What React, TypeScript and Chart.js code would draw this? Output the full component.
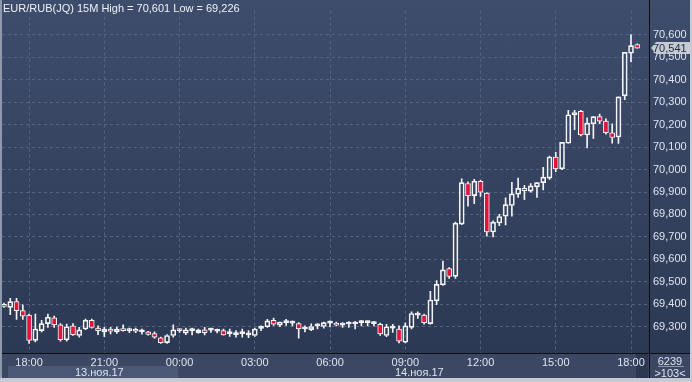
import React, { useEffect, useRef } from 'react';
import { Chart, registerables } from 'chart.js';

Chart.register(...registerables);

// ---- data (15M candles, 13.11.17 17:00 -> 14.11.17 18:15) ----
const opens = [
  69.400, 69.386, 69.412, 69.372, 69.352, 69.239, 69.283, 69.314, 69.340, 69.308,
  69.242, 69.304, 69.261, 69.290, 69.329, 69.294, 69.277, 69.290, 69.277, 69.292,
  69.283, 69.280, 69.277, 69.277, 69.269, 69.251, 69.229, 69.261, 69.284, 69.271,
  69.283, 69.274, 69.286, 69.285, 69.280, 69.283, 69.269, 69.265, 69.269, 69.264,
  69.261, 69.293, 69.300, 69.329, 69.307, 69.318, 69.316, 69.314, 69.290, 69.287,
  69.304, 69.301, 69.316, 69.316, 69.307, 69.312, 69.312, 69.318, 69.318, 69.314,
  69.311, 69.261, 69.294, 69.290, 69.231, 69.297, 69.352, 69.352, 69.314, 69.415,
  69.487, 69.559, 69.524, 69.757, 69.938, 69.884, 69.948, 69.895, 69.722, 69.762,
  69.792, 69.840, 69.890, 69.916, 69.904, 69.923, 69.942, 69.962, 70.056, 70.003,
  70.117, 70.244, 70.259, 70.154, 70.204, 70.236, 70.216, 70.164, 70.145, 70.328,
  70.518, 70.557,
];
const highs = [
  69.405, 69.426, 69.426, 69.397, 69.356, 69.356, 69.329, 69.356, 69.347, 69.314,
  69.312, 69.314, 69.297, 69.334, 69.334, 69.304, 69.297, 69.297, 69.299, 69.308,
  69.294, 69.294, 69.290, 69.280, 69.277, 69.254, 69.265, 69.308, 69.290, 69.294,
  69.294, 69.290, 69.297, 69.294, 69.290, 69.290, 69.290, 69.283, 69.290, 69.283,
  69.294, 69.304, 69.333, 69.338, 69.321, 69.333, 69.326, 69.319, 69.304, 69.313,
  69.314, 69.321, 69.326, 69.321, 69.318, 69.323, 69.324, 69.328, 69.326, 69.323,
  69.316, 69.311, 69.311, 69.304, 69.317, 69.366, 69.366, 69.356, 69.458, 69.506,
  69.592, 69.563, 69.766, 69.959, 69.945, 69.957, 69.952, 69.897, 69.772, 69.801,
  69.874, 69.943, 69.962, 69.930, 69.938, 69.942, 70.010, 70.060, 70.077, 70.121,
  70.264, 70.264, 70.264, 70.230, 70.236, 70.247, 70.226, 70.204, 70.324, 70.522,
  70.601, 70.560,
];
const lows = [
  69.386, 69.354, 69.333, 69.333, 69.226, 69.232, 69.277, 69.297, 69.297, 69.236,
  69.236, 69.261, 69.254, 69.287, 69.294, 69.265, 69.256, 69.268, 69.270, 69.280,
  69.273, 69.273, 69.267, 69.262, 69.248, 69.226, 69.226, 69.254, 69.275, 69.265,
  69.263, 69.270, 69.263, 69.275, 69.272, 69.262, 69.257, 69.254, 69.254, 69.251,
  69.257, 69.283, 69.297, 69.306, 69.300, 69.306, 69.304, 69.249, 69.277, 69.283,
  69.290, 69.294, 69.299, 69.304, 69.297, 69.297, 69.290, 69.304, 69.304, 69.304,
  69.261, 69.256, 69.275, 69.228, 69.228, 69.290, 69.337, 69.311, 69.311, 69.398,
  69.484, 69.515, 69.515, 69.755, 69.837, 69.848, 69.880, 69.703, 69.700, 69.750,
  69.753, 69.792, 69.876, 69.866, 69.899, 69.876, 69.909, 69.956, 69.991, 69.999,
  70.117, 70.178, 70.150, 70.096, 70.139, 70.204, 70.158, 70.117, 70.116, 70.311,
  70.479, 70.541,
];
const closes = [
  69.390, 69.412, 69.372, 69.347, 69.239, 69.290, 69.314, 69.343, 69.308, 69.242,
  69.300, 69.265, 69.286, 69.329, 69.297, 69.283, 69.290, 69.280, 69.290, 69.283,
  69.284, 69.287, 69.277, 69.266, 69.254, 69.229, 69.261, 69.286, 69.283, 69.286,
  69.283, 69.286, 69.274, 69.285, 69.280, 69.264, 69.269, 69.265, 69.269, 69.264,
  69.290, 69.293, 69.326, 69.311, 69.321, 69.318, 69.316, 69.290, 69.290, 69.301,
  69.304, 69.318, 69.316, 69.307, 69.307, 69.312, 69.312, 69.318, 69.318, 69.314,
  69.268, 69.300, 69.294, 69.236, 69.304, 69.359, 69.353, 69.318, 69.419, 69.489,
  69.553, 69.524, 69.761, 69.942, 69.884, 69.948, 69.899, 69.722, 69.766, 69.791,
  69.844, 69.892, 69.916, 69.906, 69.927, 69.942, 69.966, 70.056, 70.003, 70.121,
  70.244, 70.254, 70.154, 70.207, 70.236, 70.216, 70.164, 70.143, 70.324, 70.522,
  70.552, 70.541,
];

// candle numbers carrying a time label, and the labels
const timeTickIndex = [5, 17, 29, 41, 53, 65, 77, 89, 101];
const timeTickLabels = ['18:00', '21:00', '00:00', '03:00', '06:00', '09:00', '12:00', '15:00', '18:00'];
const priceTicks = [69.3, 69.4, 69.5, 69.6, 69.7, 69.8, 69.9, 70.0, 70.1, 70.2, 70.3, 70.4, 70.5, 70.6];
const lastPrice = 70.541;
const titleText = 'EUR/RUB(JQ) 15M High = 70,601 Low = 69,226';
const dateLabels = ['13.ноя.17', '14.ноя.17'];
const barCount = '6239';
const visibleCount = '>103<';

const FONT = "'Liberation Sans Narrow', 'Arial Narrow', 'Liberation Sans', Arial, sans-serif";
const TEXT = '#dfe4ee';
const GRID = '#56637f';
const RED = '#e3143c';
const WHITE = '#f4f4f6';

const fmt = (v: number) => v.toFixed(3).replace('.', ',');

const lastPricePlugin = {
  id: 'lastPrice',
  afterDraw(chart: any) {
    const { ctx, chartArea, scales } = chart;
    const y = scales.y.getPixelForValue(lastPrice);
    const x0 = chartArea.right + 2;
    const x1 = chart.width;
    ctx.save();
    ctx.fillStyle = '#c6cad3';
    ctx.beginPath();
    ctx.moveTo(x0, y);
    ctx.lineTo(x0 + 5, y - 6);
    ctx.lineTo(x1, y - 6);
    ctx.lineTo(x1, y + 6);
    ctx.lineTo(x0 + 5, y + 6);
    ctx.closePath();
    ctx.fill();
    ctx.fillStyle = '#1f2a40';
    ctx.font = `11px ${FONT}`;
    ctx.textBaseline = 'middle';
    ctx.textAlign = 'left';
    ctx.fillText(fmt(lastPrice), chartArea.right + 4, y + 0.5);
    ctx.restore();
  },
};

export default function App() {
  const ref = useRef<HTMLCanvasElement>(null);

  useEffect(() => {
    const idx = opens.map((_, i) => i + 1);
    const lowerWick = idx.map((k, i) => ({ x: k, y: [lows[i], Math.min(opens[i], closes[i])] }));
    const upperWick = idx.map((k, i) => ({ x: k, y: [Math.max(opens[i], closes[i]), highs[i]] }));
    const bodies = idx.map((k, i) => ({ x: k, y: [opens[i], closes[i]] }));
    const bodyFill = idx.map((_, i) =>
      closes[i] < opens[i] ? RED : closes[i] === opens[i] ? WHITE : 'rgba(0,0,0,0)'
    );

    const chart = new Chart(ref.current as HTMLCanvasElement, {
      type: 'bar',
      data: {
        datasets: [
          { data: lowerWick as any, backgroundColor: WHITE, borderWidth: 0, grouped: false, barThickness: 1, maxBarThickness: 1 } as any,
          { data: upperWick as any, backgroundColor: WHITE, borderWidth: 0, grouped: false, barThickness: 1, maxBarThickness: 1 } as any,
          {
            data: bodies as any,
            backgroundColor: bodyFill,
            borderColor: WHITE,
            borderWidth: 1,
            borderSkipped: false,
            grouped: false,
            barThickness: 5,
            maxBarThickness: 5,
            minBarLength: 2,
          } as any,
        ],
      },
      options: {
        animation: false,
        responsive: false,
        events: [],
        layout: { padding: 0 },
        plugins: { legend: { display: false }, tooltip: { enabled: false }, title: { display: false } },
        scales: {
          x: {
            type: 'linear',
            position: 'bottom',
            min: 0.68,
            max: 103.87,
            offset: false,
            afterFit: (s: any) => { s.height = 25; },
            afterBuildTicks: (s: any) => { s.ticks = timeTickIndex.map((v) => ({ value: v })); },
            ticks: {
              autoSkip: false,
              maxRotation: 0,
              padding: 3,
              color: TEXT,
              font: { family: FONT, size: 11 },
              callback: (v: any) => {
                const j = timeTickIndex.indexOf(Number(v));
                return j >= 0 ? timeTickLabels[j] : '';
              },
            },
            grid: { color: GRID, drawTicks: false, offset: false },
            border: { display: false, dash: [3, 3] },
          } as any,
          y: {
            type: 'linear',
            position: 'right',
            min: 69.183,
            max: 70.708,
            afterFit: (s: any) => { s.width = 41; },
            afterBuildTicks: (s: any) => { s.ticks = priceTicks.map((v) => ({ value: v })); },
            ticks: {
              padding: 4,
              color: TEXT,
              font: { family: FONT, size: 11 },
              callback: (v: any) => fmt(Number(v)),
            },
            grid: { color: GRID, drawTicks: false },
            border: { display: false, dash: [3, 3] },
          } as any,
        },
      },
      plugins: [lastPricePlugin],
    });
    return () => chart.destroy();
  }, []);

  const plotBg = 'linear-gradient(to bottom, #3f4d6d 0%, #34425f 55%, #2c3954 100%)';
  const abs = (s: React.CSSProperties): React.CSSProperties => ({ position: 'absolute', ...s });
  const txt: React.CSSProperties = { fontFamily: FONT, fontSize: 11, color: TEXT, lineHeight: '12px', whiteSpace: 'nowrap' };

  return (
    <div style={{ position: 'fixed', left: 0, top: 0, width: 692, height: 382, background: '#c6cad2', overflow: 'hidden' }}>
      <div style={abs({ left: 0, top: 0, width: 2, height: 378, background: '#8e99ad' })} />
      <div style={abs({ left: 2, top: 0, width: 688, height: 378, background: '#0c0f16' })} />
      <div style={abs({ left: 2, top: 0, width: 647, height: 353, background: plotBg })} />
      <div style={abs({ left: 650, top: 0, width: 40, height: 353, background: plotBg })} />
      <div style={abs({ left: 2, top: 354, width: 647, height: 24, background: '#3c4863' })} />
      <div style={abs({ left: 650, top: 354, width: 40, height: 24, background: '#3c4863' })} />
      <div style={abs({ left: 8, top: 366, width: 170, height: 12, background: '#4a5775' })} />
      <div style={abs({ left: 636, top: 354, width: 12, height: 24, background: '#2c3852' })} />
      <canvas
        ref={ref}
        width={688}
        height={378}
        style={{ position: 'absolute', left: 2, top: 0, width: 688, height: 378 }}
      />
      <div style={abs({ ...txt, left: 3, top: 2, color: '#eef1f6' })}>{titleText}</div>
      <div style={abs({ ...txt, left: 75, top: 366 })}>{dateLabels[0]}</div>
      <div style={abs({ ...txt, left: 395, top: 366 })}>{dateLabels[1]}</div>
      <div style={abs({ ...txt, left: 650, width: 40, top: 355, textAlign: 'center' })}>{barCount}</div>
      <div style={abs({ left: 658, top: 366, width: 26, height: 1, background: '#8d97ab' })} />
      <div style={abs({ ...txt, left: 650, width: 40, top: 367, textAlign: 'center' })}>{visibleCount}</div>
    </div>
  );
}
